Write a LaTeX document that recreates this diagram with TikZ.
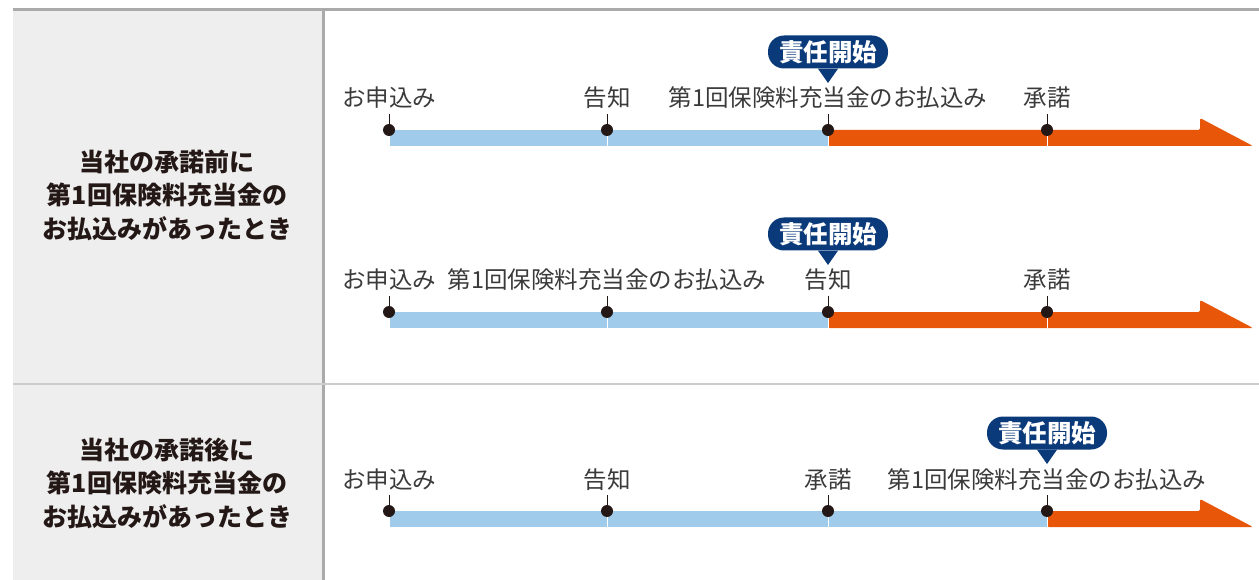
\documentclass[tikz,border=0pt]{standalone}
\usepackage{fontspec}
\setmainfont{Noto Sans CJK JP}
\usetikzlibrary{positioning}
\definecolor{panelgray}{HTML}{EEEEEE}
\definecolor{framegray}{HTML}{AAAAAA}
\definecolor{rulegray}{HTML}{CCCCCC}
\definecolor{paidblue}{HTML}{A0CBEB}
\definecolor{coverorange}{HTML}{E8560A}
\definecolor{badgenavy}{HTML}{0B3A7A}
\definecolor{inkdark}{HTML}{231815}
\definecolor{labelgray}{HTML}{3A3A3A}
\tikzset{
  frameline/.style={draw=framegray, line width=3pt},
  rowline/.style={draw=rulegray, line width=2pt},
  rowtitle/.style={align=center, inner sep=0pt, text=inkdark,
                   font=\bfseries\fontsize{25}{33.5}\selectfont},
  paid/.style={fill=paidblue},
  covered/.style={fill=coverorange, rounded corners=1.5pt},
  sep/.style={draw=white, line width=1pt},
  dot/.style={circle, fill=inkdark, minimum size=12pt, inner sep=0pt},
  tick/.style={draw=inkdark, line width=1pt},
  event/.style={anchor=base, inner sep=0pt, text=labelgray,
                font=\fontsize{23.5}{23.5}\selectfont},
  badge/.style={fill=badgenavy, text=white, rounded corners=16pt,
                minimum width=120pt, minimum height=33pt, inner sep=0pt,
                font=\bfseries\fontsize{24.5}{24.5}\selectfont},
  pointer/.style={fill=badgenavy}
}

\begin{document}
\begin{tikzpicture}[x=1pt,y=-1pt]
  \useasboundingbox (0,0) rectangle (1259,580);

  % Table frame and left column.
  \fill[panelgray] (13,11) rectangle (322,580);
  \draw[frameline] (13,10) -- (1259,10);
  \draw[frameline] (323,11) -- (323,580);
  \draw[rowline] (13,384) -- (1259,384);

  \node[rowtitle] (before) at (167,195) {当社の承諾前に\\第1回保険料充当金の\\お払込みがあったとき};
  \node[rowtitle] (after) at (167,483) {当社の承諾後に\\第1回保険料充当金の\\お払込みがあったとき};

  % First timeline: payment before notice.
  \fill[paid] (389,130) rectangle (829,146);
  \fill[covered] (828,130) -- (1200,130) -- (1200,118) -- (1253,146) -- (828,146) -- cycle;
  \foreach \x/\n in {389/a,607/b,828/c,1047/d} {
    \draw[sep] (\x,130) -- (\x,146);
    \node[dot] (one\n) at (\x,130) {};
    \draw[tick] (one\n.center) -- +(0,-16);
  }
  \node[event] (oneapply) at (389,107) {お申込み};
  \node[event] (onenotice) at (607,107) {告知};
  \node[event] (onepay) at (828,107) {第1回保険料充当金のお払込み};
  \node[event] (oneaccept) at (1047,107) {承諾};
  \node[badge] (onestart) at (828,52) {責任開始};
  \fill[pointer] ([xshift=-10pt]onestart.south) -- (828,83) -- ([xshift=10pt]onestart.south) -- cycle;

  % Second timeline: payment after notice.
  \fill[paid] (389,312) rectangle (829,328);
  \fill[covered] (828,312) -- (1200,312) -- (1200,300) -- (1253,328) -- (828,328) -- cycle;
  \foreach \x/\n in {389/a,607/b,828/c,1047/d} {
    \draw[sep] (\x,312) -- (\x,328);
    \node[dot] (two\n) at (\x,312) {};
    \draw[tick] (two\n.center) -- +(0,-16);
  }
  \node[event] (twoapply) at (389,289) {お申込み};
  \node[event] (twopay) at (607,289) {第1回保険料充当金のお払込み};
  \node[event] (twonotice) at (828,289) {告知};
  \node[event] (twoaccept) at (1047,289) {承諾};
  \node[badge] (twostart) at (828,234) {責任開始};
  \fill[pointer] ([xshift=-10pt]twostart.south) -- (828,265) -- ([xshift=10pt]twostart.south) -- cycle;

  % Third timeline: payment after acceptance.
  \fill[paid] (389,511) rectangle (1048,527);
  \fill[covered] (1047,511) -- (1200,511) -- (1200,499) -- (1253,527) -- (1047,527) -- cycle;
  \foreach \x/\n in {389/a,607/b,828/c,1047/d} {
    \draw[sep] (\x,511) -- (\x,527);
    \node[dot] (three\n) at (\x,511) {};
    \draw[tick] (three\n.center) -- +(0,-16);
  }
  \node[event] (threeapply) at (389,488) {お申込み};
  \node[event] (threenotice) at (607,488) {告知};
  \node[event] (threeaccept) at (828,488) {承諾};
  \node[event] (threepay) at (1047,488) {第1回保険料充当金のお払込み};
  \node[badge] (threestart) at (1047,433) {責任開始};
  \fill[pointer] ([xshift=-10pt]threestart.south) -- (1047,464) -- ([xshift=10pt]threestart.south) -- cycle;
\end{tikzpicture}
\end{document}
